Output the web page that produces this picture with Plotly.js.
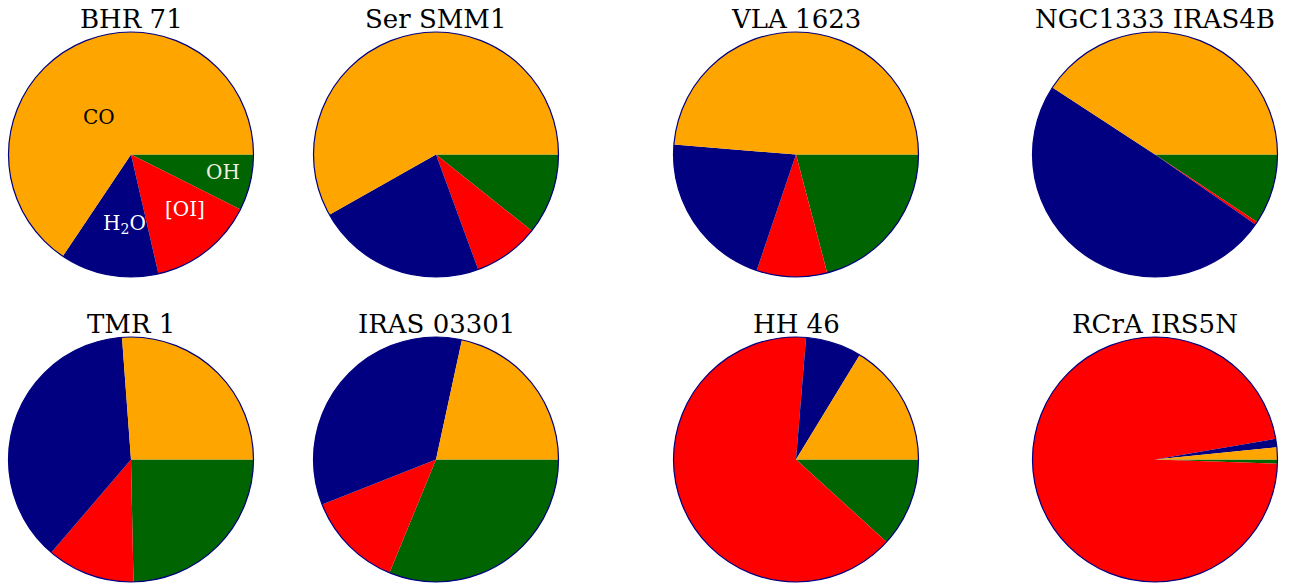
<!DOCTYPE html>
<html>
<head>
<meta charset="utf-8">
<script src="https://cdn.plot.ly/plotly-3.0.1.min.js"></script>
<style>
  html, body { margin: 0; padding: 0; background: #ffffff; }
  #chart { width: 1302px; height: 585px; }
</style>
</head>
<body>
<div id="chart"></div>
<script>
// ---- Data (percent of total cooling per species) ----
const categories = ['CO', 'H2O', '[OI]', 'OH'];
const sources = ['BHR 71', 'Ser SMM1', 'VLA 1623', 'NGC1333 IRAS4B',
                 'TMR 1', 'IRAS 03301', 'HH 46', 'RCrA IRS5N'];
const coFrac  = [65.6, 58.2, 48.7, 40.8, 26.2, 21.6, 16.3, 1.6];
const h2oFrac = [13.0, 22.4, 21.1, 49.5, 37.6, 34.4, 7.4, 1.1];
const oiFrac  = [14.0, 8.7, 9.3, 0.4, 11.6, 12.8, 64.6, 96.8];
const ohFrac  = [7.4, 10.7, 20.9, 9.3, 24.7, 31.2, 11.75, 0.55];
const colors  = ['#FFA500', '#000080', '#FF0000', '#006400'];

// ---- Layout geometry (pixels) ----
const W = 1302, H = 585;
const colCx = [131, 436, 796, 1155];
const rowCy = [154.5, 459.5];
const R = 122.5;
const titleY = [18.5, 323.5];
const FONT = 'DejaVu Serif, serif';

const traces = [];
const annotations = [];
sources.forEach((name, i) => {
  const cx = colCx[i % 4], cy = rowCy[Math.floor(i / 4)];
  const domain = {
    x: [(cx - R) / W, (cx + R) / W],
    y: [1 - (cy + R) / H, 1 - (cy - R) / H]
  };
  // Slices run counterclockwise from 3 o'clock: CO, H2O, [OI], OH.
  // Equivalent: clockwise from 3 o'clock with the order reversed.
  const vals = [coFrac[i], h2oFrac[i], oiFrac[i], ohFrac[i]];
  traces.push({
    type: 'pie',
    labels: categories.slice().reverse(),
    values: vals.slice().reverse(),
    marker: { colors: colors.slice().reverse(), line: { width: 0 } },
    sort: false,
    direction: 'clockwise',
    rotation: 90,
    textinfo: 'none',
    hoverinfo: 'label+percent',
    domain: domain,
    showlegend: false
  });
  // outline circle
  traces.push({
    type: 'pie',
    labels: ['outline'],
    values: [1],
    marker: { colors: ['rgba(0,0,0,0)'], line: { color: '#000080', width: 1.2 } },
    textinfo: 'none',
    hoverinfo: 'skip',
    domain: domain,
    showlegend: false
  });
  annotations.push({
    text: name,
    x: cx / W, y: 1 - titleY[Math.floor(i / 4)] / H,
    xref: 'paper', yref: 'paper',
    xanchor: 'center', yanchor: 'middle',
    showarrow: false,
    font: { family: FONT, size: 26, color: '#000000' }
  });
});

// species labels on first pie
const lab = [
  { t: 'CO', x: 99, y: 117, c: '#000000' },
  { t: 'H<sub>2</sub>O', x: 124, y: 224, c: '#ffffff' },
  { t: '[OI]', x: 185, y: 209, c: '#ffffff' },
  { t: 'OH', x: 223, y: 172, c: '#f0f0e0' }
];
lab.forEach(l => annotations.push({
  text: l.t, x: l.x / W, y: 1 - l.y / H, xref: 'paper', yref: 'paper',
  xanchor: 'center', yanchor: 'middle', showarrow: false,
  font: { family: FONT, size: 20, color: l.c }
}));

Plotly.newPlot('chart', traces, {
  width: W, height: H,
  margin: { l: 0, r: 0, t: 0, b: 0 },
  paper_bgcolor: '#ffffff',
  annotations: annotations
}, { displayModeBar: false, staticPlot: true });
</script>
</body>
</html>
